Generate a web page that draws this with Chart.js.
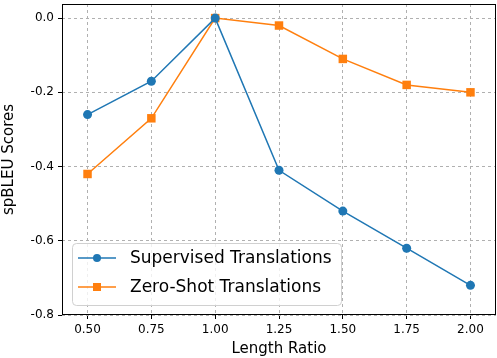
<!DOCTYPE html>
<html lang="en">
<head>
    <meta charset="UTF-8">
    <title>spBLEU vs length ratio</title>
    <script src="https://cdn.jsdelivr.net/npm/chart.js"></script>
    <style>
        body { margin: 0; padding: 0; background: #fff; }
        #wrap { width: 497px; height: 358px; }
    </style>
</head>
<body>
    <div id="wrap"><canvas id="lineChart" width="497" height="358"></canvas></div>
    <script>
        const lengthRatios = [0.50, 0.75, 1.00, 1.25, 1.50, 1.75, 2.00];
        const supervised = [-0.26, -0.17, 0.00, -0.41, -0.52, -0.62, -0.72];
        const zeroShot = [-0.42, -0.27, 0.00, -0.02, -0.11, -0.18, -0.20];
        const xTicks = [0.50, 0.75, 1.00, 1.25, 1.50, 1.75, 2.00];
        const yTicks = [0.0, -0.2, -0.4, -0.6, -0.8];

        const labelFont = "'DejaVu Sans', sans-serif";

        // frame round the plot area, like matplotlib spines
        const framePlugin = {
            id: 'frame',
            afterDraw(chart) {
                const a = chart.chartArea;
                const ctx = chart.ctx;
                ctx.save();
                ctx.strokeStyle = '#000';
                ctx.lineWidth = 1;
                ctx.strokeRect(a.left + 0.5, a.top + 0.5, a.right - a.left - 1, a.bottom - a.top - 1);
                ctx.restore();
            }
        };

        // legend drawn inside the plot, lower left
        const insideLegend = {
            id: 'insideLegend',
            afterDraw(chart) {
                const ctx = chart.ctx;
                const a = chart.chartArea;
                const x = a.left + 10, y = a.bottom - 72, w = 269, h = 62;
                ctx.save();
                ctx.fillStyle = 'rgba(255,255,255,0.8)';
                ctx.strokeStyle = '#d0d0d0';
                ctx.lineWidth = 1;
                ctx.beginPath();
                ctx.roundRect(x + 0.5, y + 0.5, w, h, 4);
                ctx.fill();
                ctx.stroke();
                chart.data.datasets.forEach((ds, i) => {
                    const cy = y + 15 + i * 29;
                    ctx.strokeStyle = ds.borderColor;
                    ctx.lineWidth = ds.borderWidth;
                    ctx.beginPath();
                    ctx.moveTo(x + 6, cy);
                    ctx.lineTo(x + 44, cy);
                    ctx.stroke();
                    ctx.fillStyle = ds.pointBackgroundColor;
                    if (ds.pointStyle === 'rect') {
                        ctx.fillRect(x + 25 - 4, cy - 4, 8, 8);
                    } else {
                        ctx.beginPath();
                        ctx.arc(x + 25, cy, 4, 0, Math.PI * 2);
                        ctx.fill();
                    }
                    ctx.fillStyle = '#000';
                    ctx.font = "17px " + labelFont;
                    ctx.textBaseline = 'middle';
                    ctx.fillText(ds.label, x + 58, cy + 1);
                });
                ctx.restore();
            }
        };

        const gridOpts = {
            color: '#b0b0b0',
            tickColor: '#000',
            tickBorderDash: [],
            tickLength: 4
        };

        function createChart() {
            const ctx = document.getElementById('lineChart').getContext('2d');
            new Chart(ctx, {
                type: 'line',
                data: {
                    datasets: [{
                        label: 'Supervised Translations',
                        data: lengthRatios.map((r, i) => ({ x: r, y: supervised[i] })),
                        borderColor: '#1f77b4',
                        backgroundColor: '#1f77b4',
                        pointBackgroundColor: '#1f77b4',
                        pointBorderWidth: 0,
                        pointStyle: 'circle',
                        pointRadius: 4.5,
                        borderWidth: 1.5
                    }, {
                        label: 'Zero-Shot Translations',
                        data: lengthRatios.map((r, i) => ({ x: r, y: zeroShot[i] })),
                        borderColor: '#ff7f0e',
                        backgroundColor: '#ff7f0e',
                        pointBackgroundColor: '#ff7f0e',
                        pointBorderWidth: 0,
                        pointStyle: 'rect',
                        pointRadius: 6,
                        borderWidth: 1.5
                    }]
                },
                options: {
                    responsive: false,
                    animation: false,
                    layout: { autoPadding: false, padding: { top: 4, right: 1, left: 0, bottom: 0 } },
                    plugins: {
                        legend: { display: false },
                        tooltip: { enabled: false }
                    },
                    scales: {
                        x: {
                            type: 'linear',
                            min: 0.4,
                            max: 2.1,
                            afterBuildTicks(scale) {
                                scale.ticks = xTicks.map(v => ({ value: v }));
                            },
                            afterFit(scale) {
                                scale.height = 43;
                                scale.paddingLeft = 0;
                                scale.paddingRight = 0;
                            },
                            ticks: {
                                color: '#000',
                                font: { family: labelFont, size: 12 },
                                padding: 4,
                                maxRotation: 0,
                                callback: v => v.toFixed(2)
                            },
                            grid: gridOpts,
                            border: { display: false, dash: [3, 3] },
                            title: {
                                display: true,
                                text: 'Length Ratio',
                                color: '#000',
                                font: { family: labelFont, size: 15 },
                                padding: { top: 5, bottom: 0 }
                            }
                        },
                        y: {
                            min: -0.8,
                            max: 0.038,
                            afterBuildTicks(scale) {
                                scale.ticks = yTicks.map(v => ({ value: v }));
                            },
                            afterFit(scale) {
                                scale.width = 62;
                                scale.paddingTop = 0;
                                scale.paddingBottom = 0;
                            },
                            ticks: {
                                color: '#000',
                                font: { family: labelFont, size: 12 },
                                padding: 4,
                                callback: v => v.toFixed(1)
                            },
                            grid: gridOpts,
                            border: { display: false, dash: [3, 3] },
                            title: {
                                display: true,
                                text: 'spBLEU Scores',
                                color: '#000',
                                font: { family: labelFont, size: 15 },
                                padding: { top: 0, bottom: 2 }
                            }
                        }
                    }
                },
                plugins: [framePlugin, insideLegend]
            });
        }

        document.addEventListener('DOMContentLoaded', createChart);
    </script>
</body>
</html>
